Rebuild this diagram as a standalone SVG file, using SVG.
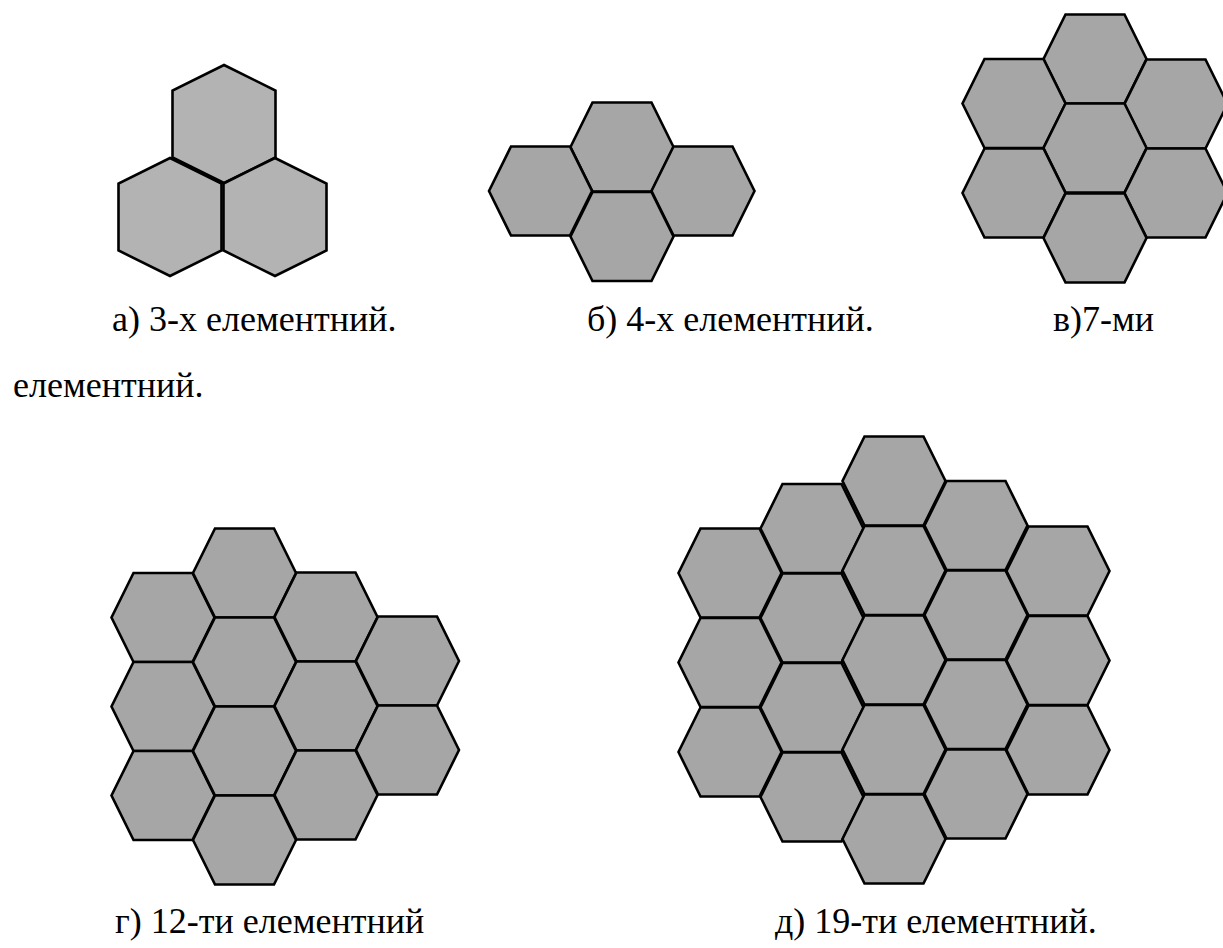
<svg xmlns="http://www.w3.org/2000/svg" xmlns:xlink="http://www.w3.org/1999/xlink" width="1223" height="948" viewBox="0 0 1223 948">
<style>
.hf{fill:#a6a6a6;stroke:#000;stroke-width:2.6;stroke-linejoin:miter}
.hp{fill:#b3b3b3;stroke:#000;stroke-width:2.6;stroke-linejoin:miter}
.t{font-size:36px;fill:#000}
</style>
<defs>
<polygon id="flat" points="-29.5,-44.5 29.5,-44.5 51.5,0 29.5,44.5 -29.5,44.5 -51.5,0"/>
<polygon id="pointy" points="0,-59 51.5,-33.5 51.5,33.5 0,59 -51.5,33.5 -51.5,-33.5"/>
</defs>
<rect width="1223" height="948" fill="#fff"/>

<g id="diagram-a">
<g id="a1"><use xlink:href="#pointy" class="hp" x="224" y="124"/></g>
<g id="a2"><use xlink:href="#pointy" class="hp" x="170" y="217"/></g>
<g id="a3"><use xlink:href="#pointy" class="hp" x="275" y="217"/></g>
</g>

<g id="diagram-b">
<g id="b1"><use xlink:href="#flat" class="hf" x="622" y="147"/></g>
<g id="b2"><use xlink:href="#flat" class="hf" x="540.5" y="191"/></g>
<g id="b3"><use xlink:href="#flat" class="hf" x="703" y="191"/></g>
<g id="b4"><use xlink:href="#flat" class="hf" x="622" y="236.5"/></g>
</g>

<g id="diagram-c">
<g id="c1"><use xlink:href="#flat" class="hf" x="1095" y="59"/></g>
<g id="c2"><use xlink:href="#flat" class="hf" x="1014" y="103.5"/></g>
<g id="c3"><use xlink:href="#flat" class="hf" x="1176" y="104"/></g>
<g id="c4"><use xlink:href="#flat" class="hf" x="1095" y="148"/></g>
<g id="c5"><use xlink:href="#flat" class="hf" x="1014" y="193"/></g>
<g id="c6"><use xlink:href="#flat" class="hf" x="1176" y="193"/></g>
<g id="c7"><use xlink:href="#flat" class="hf" x="1095" y="238"/></g>
</g>

<g id="diagram-d">
<g id="d1"><use xlink:href="#flat" class="hf" x="163" y="617.5"/></g>
<g id="d2"><use xlink:href="#flat" class="hf" x="163" y="706.5"/></g>
<g id="d3"><use xlink:href="#flat" class="hf" x="163" y="795.5"/></g>
<g id="d4"><use xlink:href="#flat" class="hf" x="244.5" y="573"/></g>
<g id="d5"><use xlink:href="#flat" class="hf" x="244.5" y="662"/></g>
<g id="d6"><use xlink:href="#flat" class="hf" x="244.5" y="751"/></g>
<g id="d7"><use xlink:href="#flat" class="hf" x="244.5" y="840"/></g>
<g id="d8"><use xlink:href="#flat" class="hf" x="326" y="617"/></g>
<g id="d9"><use xlink:href="#flat" class="hf" x="326" y="706"/></g>
<g id="d10"><use xlink:href="#flat" class="hf" x="326" y="795"/></g>
<g id="d11"><use xlink:href="#flat" class="hf" x="407.5" y="661"/></g>
<g id="d12"><use xlink:href="#flat" class="hf" x="407.5" y="750"/></g>
</g>

<g id="diagram-e">
<g id="e1"><use xlink:href="#flat" class="hf" x="730" y="573"/></g>
<g id="e2"><use xlink:href="#flat" class="hf" x="730" y="662.5"/></g>
<g id="e3"><use xlink:href="#flat" class="hf" x="730" y="752"/></g>
<g id="e4"><use xlink:href="#flat" class="hf" x="812" y="528.5"/></g>
<g id="e5"><use xlink:href="#flat" class="hf" x="812" y="618"/></g>
<g id="e6"><use xlink:href="#flat" class="hf" x="812" y="707.5"/></g>
<g id="e7"><use xlink:href="#flat" class="hf" x="812" y="797"/></g>
<g id="e8"><use xlink:href="#flat" class="hf" x="894" y="481"/></g>
<g id="e9"><use xlink:href="#flat" class="hf" x="894" y="570.5"/></g>
<g id="e10"><use xlink:href="#flat" class="hf" x="894" y="660"/></g>
<g id="e11"><use xlink:href="#flat" class="hf" x="894" y="749.5"/></g>
<g id="e12"><use xlink:href="#flat" class="hf" x="894" y="839"/></g>
<g id="e13"><use xlink:href="#flat" class="hf" x="976" y="525.5"/></g>
<g id="e14"><use xlink:href="#flat" class="hf" x="976" y="615"/></g>
<g id="e15"><use xlink:href="#flat" class="hf" x="976" y="704.5"/></g>
<g id="e16"><use xlink:href="#flat" class="hf" x="976" y="794"/></g>
<g id="e17"><use xlink:href="#flat" class="hf" x="1058" y="571"/></g>
<g id="e18"><use xlink:href="#flat" class="hf" x="1058" y="660.5"/></g>
<g id="e19"><use xlink:href="#flat" class="hf" x="1058" y="750"/></g>
</g>

<g id="connectors"></g>

<g id="labels" font-family="'Liberation Serif', 'DejaVu Serif', serif">
<text class="t" x="112" y="331">а) 3-х елементний.</text>
<text class="t" x="587" y="331">б) 4-х елементний.</text>
<text class="t" x="1053" y="331">в)7-ми</text>
<text class="t" x="13" y="397">елементний.</text>
<text class="t" x="115" y="933">г) 12-ти елементний</text>
<text class="t" x="775" y="933">д) 19-ти елементний.</text>
</g>
</svg>
